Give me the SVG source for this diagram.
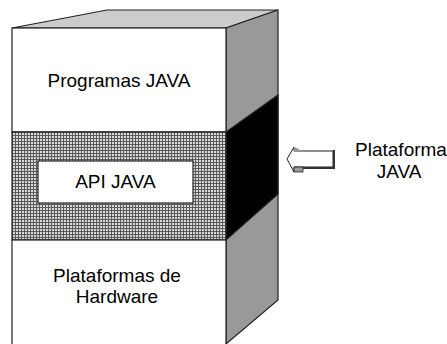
<svg xmlns="http://www.w3.org/2000/svg" width="447" height="344" viewBox="0 0 447 344">
<style>
  .lbl { font-family: "Liberation Sans", Arial, sans-serif; font-size: 19px; fill: #000; text-anchor: middle; }
  .edge { stroke: #222; stroke-width: 1.2; stroke-linejoin: miter; }
</style>
<defs>
  <pattern id="hatch" width="3" height="3" patternUnits="userSpaceOnUse">
    <rect width="3" height="3" fill="#5a5a5a"/>
    <rect x="1" y="1" width="2" height="2" fill="#d8d8d8"/>
  </pattern>
</defs>
<rect width="447" height="344" fill="#fff"/>
<g id="cube">
  <polygon class="edge" points="12,28 107,10 278,10 226,28" fill="#cccccc"/>
  <polygon class="edge" points="226,28 278,10 278,300 226,344" fill="#999999"/>
  <polygon class="edge" points="226,132 278,95 278,194 226,240" fill="#000"/>
</g>
<g id="programas">
  <rect class="edge" x="12" y="28" width="214" height="104" fill="#fff"/>
  <text class="lbl" x="119" y="87">Programas JAVA</text>
</g>
<g id="api">
  <rect class="edge" x="12" y="132" width="214" height="108" fill="url(#hatch)"/>
  <rect class="edge" x="38" y="161" width="155" height="42" fill="#fff"/>
  <text class="lbl" x="115.5" y="188">API JAVA</text>
</g>
<g id="hardware">
  <rect class="edge" x="12" y="240" width="214" height="106" fill="#fff"/>
  <text class="lbl" x="117" y="282">Plataformas de</text>
  <text class="lbl" x="117" y="303">Hardware</text>
</g>
<g id="connectors">
  <polygon points="287,159 294,147 294,151 333,151 333,167 294,167 294,172" fill="#fff" stroke="#222" stroke-width="1"/>
  <polygon points="294,147 294,151 299,151 299,149" fill="#999"/>
  <rect x="294" y="167" width="9" height="5" fill="#999" stroke="#222" stroke-width="0.8"/>
  <polyline points="303,168 334,168 334,150" fill="none" stroke="#333" stroke-width="2"/>
</g>
<g id="plataforma">
  <text class="lbl" x="401" y="156">Plataforma</text>
  <text class="lbl" x="399" y="178">JAVA</text>
</g>
</svg>
